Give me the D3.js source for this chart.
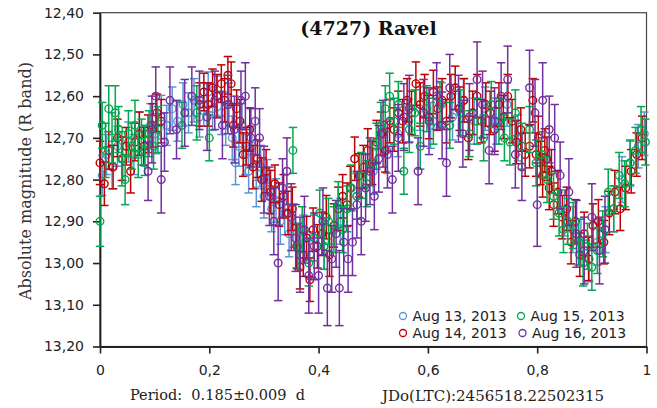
<!DOCTYPE html>
<html><head><meta charset="utf-8">
<script src="https://cdn.jsdelivr.net/npm/d3@7"></script>
<style>body{margin:0;background:#fff}svg{display:block}</style>
</head><body><svg id="c" width="657" height="408"></svg>
<script>
// [phase, magnitude, error]
const aug13 = [[0.004,12.79,0.048],[0.012,12.74,0.048],[0.022,12.77,0.052],[0.032,12.72,0.048],[0.042,12.75,0.052],[0.052,12.71,0.048],[0.062,12.74,0.048],[0.072,12.69,0.052],[0.082,12.72,0.048],[0.092,12.67,0.052],[0.102,12.69,0.048],[0.112,12.65,0.052],[0.122,12.67,0.048],[0.132,12.63,0.052],[0.142,12.66,0.048],[0.152,12.62,0.052],[0.162,12.64,0.048],[0.172,12.61,0.052],[0.182,12.65,0.048],[0.190,12.62,0.052],[0.198,12.59,0.048],[0.206,12.63,0.052],[0.214,12.60,0.048],[0.222,12.64,0.052],[0.230,12.67,0.048],[0.236,12.62,0.052],[0.242,12.70,0.052],[0.248,12.76,0.052],[0.254,12.72,0.048],[0.260,12.67,0.052],[0.266,12.74,0.048],[0.272,12.78,0.052],[0.278,12.72,0.048],[0.286,12.81,0.055],[0.294,12.77,0.052],[0.300,12.84,0.052],[0.306,12.80,0.048],[0.314,12.87,0.055],[0.322,12.85,0.052],[0.330,12.90,0.055],[0.338,12.88,0.052],[0.346,12.93,0.055],[0.354,12.91,0.052],[0.362,12.96,0.055],[0.372,12.94,0.055],[0.384,12.98,0.055],[0.410,12.96,0.055],[0.440,12.90,0.055],[0.470,12.84,0.055],[0.500,12.78,0.055],[0.525,12.73,0.055],[0.545,12.69,0.055],[0.565,12.66,0.052],[0.585,12.63,0.052],[0.605,12.67,0.055],[0.625,12.62,0.052],[0.645,12.65,0.055],[0.665,12.61,0.052],[0.685,12.66,0.055],[0.705,12.63,0.052],[0.725,12.66,0.055],[0.745,12.62,0.052],[0.765,12.70,0.055],[0.850,12.88,0.055],[0.865,12.92,0.055],[0.880,12.95,0.055],[0.895,12.99,0.055],[0.910,12.95,0.055],[0.925,12.92,0.055],[0.940,12.87,0.055],[0.955,12.80,0.055],[0.970,12.76,0.052],[0.985,12.72,0.052],[0.996,12.69,0.052]];
const aug14 = [[0.000,12.76,0.052],[0.008,12.81,0.052],[0.016,12.73,0.045],[0.024,12.77,0.052],[0.032,12.70,0.045],[0.040,12.75,0.052],[0.048,12.72,0.045],[0.056,12.78,0.052],[0.064,12.71,0.045],[0.072,12.69,0.052],[0.080,12.72,0.045],[0.088,12.69,0.045],[0.096,12.67,0.052],[0.104,12.64,0.045],[0.112,12.66,0.052],[0.182,12.62,0.052],[0.190,12.59,0.045],[0.198,12.62,0.052],[0.206,12.58,0.045],[0.214,12.60,0.052],[0.222,12.57,0.045],[0.228,12.61,0.052],[0.234,12.55,0.045],[0.240,12.57,0.052],[0.244,12.67,0.052],[0.250,12.63,0.045],[0.256,12.66,0.052],[0.262,12.74,0.052],[0.268,12.72,0.045],[0.274,12.68,0.052],[0.280,12.77,0.052],[0.288,12.75,0.045],[0.296,12.80,0.052],[0.304,12.78,0.052],[0.312,12.83,0.052],[0.320,12.81,0.045],[0.328,12.86,0.052],[0.336,12.84,0.052],[0.344,12.88,0.052],[0.352,12.87,0.052],[0.360,12.96,0.052],[0.366,13.01,0.052],[0.372,12.98,0.052],[0.378,12.94,0.052],[0.384,13.04,0.052],[0.390,12.92,0.052],[0.398,12.96,0.052],[0.406,12.93,0.052],[0.414,12.89,0.052],[0.420,12.98,0.052],[0.428,12.91,0.052],[0.436,12.87,0.052],[0.444,12.84,0.052],[0.452,12.86,0.052],[0.458,12.82,0.052],[0.466,12.75,0.052],[0.474,12.79,0.052],[0.482,12.77,0.052],[0.490,12.73,0.052],[0.498,12.76,0.052],[0.506,12.71,0.052],[0.514,12.69,0.052],[0.522,12.73,0.052],[0.530,12.66,0.052],[0.538,12.68,0.052],[0.546,12.64,0.052],[0.554,12.66,0.052],[0.562,12.61,0.052],[0.570,12.64,0.052],[0.578,12.57,0.052],[0.586,12.62,0.052],[0.594,12.60,0.052],[0.602,12.65,0.052],[0.610,12.59,0.052],[0.618,12.63,0.052],[0.626,12.61,0.052],[0.634,12.66,0.052],[0.642,12.60,0.052],[0.650,12.58,0.052],[0.658,12.63,0.052],[0.666,12.61,0.052],[0.674,12.70,0.052],[0.682,12.64,0.052],[0.690,12.60,0.052],[0.698,12.66,0.052],[0.706,12.62,0.052],[0.714,12.64,0.052],[0.722,12.68,0.052],[0.730,12.62,0.052],[0.738,12.65,0.052],[0.746,12.60,0.052],[0.754,12.66,0.052],[0.762,12.71,0.052],[0.770,12.68,0.052],[0.778,12.74,0.052],[0.786,12.72,0.052],[0.792,12.61,0.052],[0.798,12.74,0.052],[0.802,12.70,0.052],[0.806,12.76,0.052],[0.810,12.79,0.052],[0.814,12.73,0.052],[0.818,12.75,0.052],[0.822,12.82,0.052],[0.826,12.78,0.052],[0.830,12.86,0.052],[0.838,12.83,0.052],[0.846,12.89,0.052],[0.854,12.87,0.052],[0.862,12.95,0.052],[0.870,12.90,0.052],[0.878,12.98,0.052],[0.886,12.93,0.052],[0.894,12.99,0.052],[0.902,12.91,0.052],[0.912,12.90,0.052],[0.922,12.95,0.052],[0.932,12.88,0.052],[0.942,12.83,0.052],[0.952,12.87,0.052],[0.962,12.82,0.052],[0.972,12.78,0.052],[0.982,12.74,0.052],[0.992,12.70,0.052]];
const aug15 = [[0.000,12.90,0.06],[0.004,12.67,0.055],[0.010,12.73,0.065],[0.016,12.63,0.055],[0.022,12.70,0.06],[0.028,12.64,0.065],[0.034,12.68,0.055],[0.040,12.75,0.065],[0.046,12.80,0.06],[0.052,12.69,0.055],[0.058,12.72,0.055],[0.064,12.67,0.06],[0.070,12.74,0.055],[0.076,12.71,0.055],[0.082,12.73,0.06],[0.090,12.69,0.055],[0.098,12.72,0.055],[0.106,12.68,0.055],[0.150,12.67,0.055],[0.177,12.64,0.065],[0.200,12.70,0.055],[0.353,12.73,0.055],[0.362,12.96,0.055],[0.370,12.92,0.055],[0.382,13.00,0.055],[0.392,12.94,0.055],[0.402,12.88,0.055],[0.410,12.96,0.055],[0.418,12.90,0.055],[0.428,12.92,0.055],[0.436,12.86,0.055],[0.444,12.92,0.055],[0.452,12.87,0.055],[0.460,12.82,0.055],[0.470,12.84,0.055],[0.478,12.79,0.055],[0.488,12.81,0.055],[0.496,12.76,0.055],[0.506,12.72,0.055],[0.514,12.67,0.055],[0.522,12.63,0.055],[0.530,12.60,0.055],[0.538,12.66,0.055],[0.546,12.62,0.055],[0.556,12.78,0.055],[0.566,12.68,0.055],[0.576,12.64,0.055],[0.586,12.72,0.055],[0.598,12.63,0.055],[0.610,12.66,0.055],[0.622,12.62,0.055],[0.640,12.67,0.055],[0.660,12.64,0.055],[0.676,12.69,0.055],[0.690,12.66,0.055],[0.702,12.70,0.055],[0.716,12.62,0.055],[0.730,12.66,0.055],[0.740,12.70,0.055],[0.750,12.71,0.055],[0.760,12.64,0.055],[0.772,12.72,0.055],[0.786,12.68,0.055],[0.798,12.76,0.055],[0.808,12.74,0.055],[0.818,12.80,0.055],[0.830,12.84,0.055],[0.840,12.88,0.055],[0.848,12.92,0.055],[0.856,12.90,0.055],[0.866,12.91,0.055],[0.876,12.95,0.055],[0.884,13.00,0.055],[0.892,12.96,0.055],[0.900,13.01,0.055],[0.910,12.97,0.055],[0.920,12.93,0.055],[0.930,12.83,0.055],[0.940,12.87,0.055],[0.950,12.79,0.055],[0.960,12.81,0.055],[0.970,12.76,0.055],[0.980,12.73,0.055],[0.990,12.68,0.055],[0.998,12.71,0.055]];
const aug16 = [[0.088,12.78,0.07],[0.095,12.68,0.08],[0.102,12.60,0.07],[0.112,12.80,0.08],[0.118,12.71,0.07],[0.128,12.61,0.08],[0.140,12.68,0.07],[0.155,12.64,0.08],[0.168,12.60,0.07],[0.182,12.61,0.07],[0.196,12.65,0.08],[0.210,12.61,0.07],[0.224,12.67,0.08],[0.234,12.62,0.07],[0.246,12.68,0.08],[0.258,12.61,0.07],[0.266,12.60,0.08],[0.276,12.70,0.07],[0.284,12.66,0.08],[0.292,12.70,0.07],[0.300,12.80,0.08],[0.310,12.84,0.07],[0.318,12.90,0.08],[0.326,13.00,0.09],[0.334,12.82,0.07],[0.342,12.78,0.08],[0.350,12.89,0.08],[0.358,12.94,0.08],[0.366,12.98,0.09],[0.374,12.92,0.08],[0.382,13.03,0.09],[0.392,12.96,0.08],[0.400,13.03,0.09],[0.408,12.90,0.08],[0.416,13.06,0.09],[0.424,12.99,0.08],[0.432,12.93,0.08],[0.438,13.06,0.09],[0.446,12.95,0.08],[0.454,12.99,0.08],[0.462,12.95,0.08],[0.470,12.86,0.08],[0.478,12.90,0.08],[0.486,12.82,0.08],[0.494,12.78,0.08],[0.502,12.84,0.08],[0.510,12.75,0.08],[0.518,12.69,0.08],[0.526,12.74,0.08],[0.535,12.80,0.08],[0.546,12.70,0.08],[0.556,12.65,0.08],[0.566,12.63,0.08],[0.582,12.78,0.08],[0.592,12.64,0.08],[0.602,12.66,0.08],[0.616,12.60,0.08],[0.626,12.67,0.08],[0.634,12.76,0.08],[0.640,12.58,0.08],[0.656,12.63,0.08],[0.664,12.69,0.08],[0.676,12.65,0.08],[0.690,12.56,0.09],[0.700,12.62,0.08],[0.712,12.73,0.08],[0.722,12.66,0.08],[0.734,12.60,0.08],[0.746,12.56,0.08],[0.760,12.74,0.08],[0.772,12.77,0.08],[0.786,12.58,0.09],[0.796,12.64,0.08],[0.800,12.86,0.1],[0.810,12.61,0.09],[0.822,12.68,0.08],[0.832,12.70,0.08],[0.842,12.79,0.08],[0.858,12.83,0.08],[0.872,12.93,0.08],[0.886,12.97,0.08],[0.900,12.89,0.08],[0.914,12.97,0.08],[0.924,12.92,0.08]];

const seriesNames = ["Aug 13, 2013","Aug 14, 2013","Aug 15, 2013","Aug 16, 2013"];
const seriesData = [aug13, aug14, aug15, aug16];
const seriesColors = ["#5b95d3","#c00000","#00a84f","#7030a0"];
const yTicks = [12.4,12.5,12.6,12.7,12.8,12.9,13.0,13.1,13.2];
const xTicks = [0,0.2,0.4,0.6,0.8,1];
const titleText = "(4727) Ravel";
const yTitle = "Absolute magnitude (R band)";
const periodText = "Period:  0.185\u00b10.009  d";
const jdText = "JDo(LTC):2456518.22502315";

const svg = d3.select("#c");
svg.append("rect").attr("width",657).attr("height",408).attr("fill","#fff");

const x = d3.scaleLinear().domain([0,1]).range([100,646.5]);
const y = d3.scaleLinear().domain([12.4,13.2]).range([12.7,346.5]);

// frame
svg.append("rect").attr("x",100).attr("y",12.7).attr("width",546.5).attr("height",333.8)
  .attr("fill","none").attr("stroke","#444").attr("stroke-width",1.2);

const comma = s => s.replace(".",",");
const yAxis = svg.append("g")
  .call(d3.axisLeft(y).tickValues(yTicks).tickSize(7).tickPadding(9).tickSizeOuter(0)
    .tickFormat(d => comma(d3.format(".2f")(d))));
yAxis.attr("transform","translate(100,0)");
const xAxis = svg.append("g").attr("transform","translate(0,346.5)")
  .call(d3.axisBottom(x).tickValues(xTicks).tickSize(7).tickPadding(12).tickSizeOuter(0)
    .tickFormat(d => comma(d3.format("")(+d.toFixed(1)))));
[yAxis,xAxis].forEach(a=>{
  a.select(".domain").attr("stroke","#222").attr("stroke-width",1.8);
  a.selectAll(".tick line").attr("stroke","#222").attr("stroke-width",1.6);
  a.selectAll("text").attr("font-family","'DejaVu Sans',Verdana,sans-serif").attr("font-size",14).attr("fill","#222");
});

// series
seriesData.forEach((data,i)=>{
  const g = svg.append("g").attr("stroke",seriesColors[i]).attr("fill","none");
  const eb = g.append("g").attr("stroke-width",1.5);
  data.forEach(d=>{
    const cx = x(d[0]), y1 = y(d[1]-d[2]), y2 = y(d[1]+d[2]);
    eb.append("line").attr("x1",cx).attr("x2",cx).attr("y1",y1).attr("y2",y2);
    eb.append("line").attr("x1",cx-4.2).attr("x2",cx+4.2).attr("y1",y1).attr("y2",y1);
    eb.append("line").attr("x1",cx-4.2).attr("x2",cx+4.2).attr("y1",y2).attr("y2",y2);
  });
  g.append("g").attr("stroke-width",1.4).selectAll("circle").data(data).join("circle")
    .attr("cx",d=>x(d[0])).attr("cy",d=>y(d[1])).attr("r",3.8);
});

// title
svg.append("text").attr("x",368.5).attr("y",35).attr("text-anchor","middle")
  .attr("font-family","'DejaVu Serif',serif").attr("font-weight","bold").attr("font-size",19)
  .attr("fill","#111").text(titleText);

// y title
svg.append("text").attr("transform","translate(30.5,181) rotate(-90)").attr("text-anchor","middle")
  .attr("font-family","'DejaVu Serif',serif").attr("font-size",16).attr("fill","#333").text(yTitle);

// bottom texts
svg.append("text").attr("x",130).attr("y",400).attr("xml:space","preserve").style("white-space","pre")
  .attr("font-family","'DejaVu Serif',serif").attr("font-size",14.5).attr("fill","#222").text(periodText);
svg.append("text").attr("x",382).attr("y",401)
  .attr("font-family","'DejaVu Serif',serif").attr("font-size",15).attr("fill","#222").text(jdText);

// legend (column-major: 13,14 | 15,16)
const legPos = [[403,316],[403,333],[521,316],[522.5,333]];
seriesNames.forEach((n,i)=>{
  const [lx,ly] = legPos[i];
  svg.append("circle").attr("cx",lx).attr("cy",ly).attr("r",3.5).attr("fill","none")
    .attr("stroke",seriesColors[i]).attr("stroke-width",1.3);
  svg.append("text").attr("x",lx+9.5).attr("y",ly+5).attr("font-family","'DejaVu Sans',Verdana,sans-serif")
    .attr("font-size",14).attr("fill","#222").text(n);
});
</script></body></html>
